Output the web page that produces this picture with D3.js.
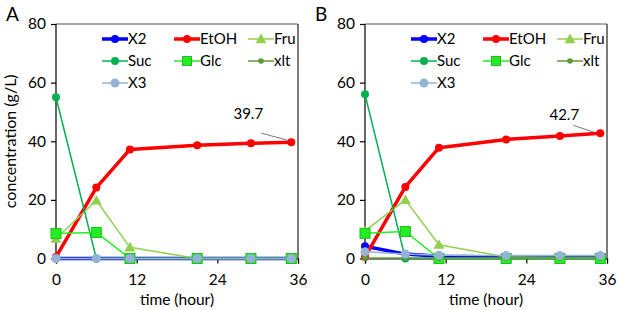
<!DOCTYPE html>
<html>
<head>
<meta charset="utf-8">
<script src="https://cdn.jsdelivr.net/npm/d3@7"></script>
<style>
  body { margin: 0; background: #fff; }
  text { font-family: Lato, "Open Sans", sans-serif; fill: #000; }
</style>
</head>
<body>
<div id="chart"></div>
<script>
// sampling times (hour)
const times = [0, 6, 11, 21, 29, 35];
const xTicks = [0, 12, 24, 36];
const yTicks = [0, 20, 40, 60, 80];

// panel A
const a_X2   = [0, 0, 0, 0, 0, 0];
const a_EtOH = [0.5, 24.2, 37.2, 38.6, 39.3, 39.7];
const a_Fru  = [6.8, 19.8, 3.8, 0, 0, 0];
const a_Suc  = [55, 0, 0, 0, 0, 0];
const a_Glc  = [8.5, 8.9, 0, 0, 0, 0];
const a_xlt  = [0, 0, 0, 0, 0, 0];
const a_X3   = [0, 0, 0, 0, 0, 0];

// panel B
const b_X2   = [4.2, 1.5, 0.8, 0.5, 0.5, 0.5];
const b_EtOH = [0.5, 24.4, 37.8, 40.6, 41.8, 42.7];
const b_Fru  = [9.4, 20, 4.7, 0.5, 0.3, 0.3];
const b_Suc  = [56, 0, 0, 0, 0, 0];
const b_Glc  = [8.6, 9.2, 0, 0, 0, 0];
const b_xlt  = [0.2, 0.2, 0.2, 0.2, 0.2, 0.2];
const b_X3   = [2.3, 1.5, 1.1, 1, 1, 1];

const seriesStyle = [
    { name: "X2",   color: "#0000ff", width: 3.5, shape: "circle", size: 4 },
    { name: "EtOH", color: "#ff0000", width: 3.5, shape: "circle", size: 4 },
    { name: "Fru",  color: "#92d050", width: 1.5, shape: "triangle", size: 5.5 },
    { name: "Suc",  color: "#00b050", width: 1.5, shape: "circle", size: 4 },
    { name: "Glc",  color: "#22ee22", width: 1.5, shape: "square", size: 5, stroke: "#22bb22" },
    { name: "xlt",  color: "#5f9a3a", width: 1.5, shape: "circle", size: 2.8 },
    { name: "X3",   color: "#95b3d7", width: 1.5, shape: "circle", size: 4.5 }
];

const W = 617, H = 310;
const svg = d3.select("#chart").append("svg")
    .attr("width", W).attr("height", H);

function marker(g, s, x, y, scale) {
    const k = scale || 1;
    if (s.shape === "circle") {
        g.append("circle").attr("cx", x).attr("cy", y).attr("r", s.size * k)
            .attr("fill", s.color);
    } else if (s.shape === "square") {
        const r = s.size * k;
        g.append("rect").attr("x", x - r).attr("y", y - r)
            .attr("width", 2 * r).attr("height", 2 * r)
            .attr("fill", s.color).attr("stroke", s.stroke || s.color).attr("stroke-width", 1);
    } else {
        const r = s.size * k;
        g.append("path")
            .attr("d", `M${x},${y - r}L${x + r},${y + r * 0.75}L${x - r},${y + r * 0.75}Z`)
            .attr("fill", s.color);
    }
}

function drawPanel(left, right, letter, data, label, labelOff, showTitle) {
    const top = 24, bottom = 258.5;
    const x = d3.scaleLinear().domain([0, 36]).range([left, right]);
    const y = d3.scaleLinear().domain([0, 80]).range([bottom, top]);
    const g = svg.append("g");

    // box
    g.append("line").attr("x1", left).attr("x2", right).attr("y1", top).attr("y2", top)
        .attr("stroke", "#555").attr("stroke-width", 1);
    g.append("line").attr("x1", right).attr("x2", right).attr("y1", top).attr("y2", bottom)
        .attr("stroke", "#222").attr("stroke-width", 1.2);

    // axes
    const ya = g.append("g").attr("transform", `translate(${left},0)`)
        .call(d3.axisLeft(y).tickValues(yTicks).tickSize(5).tickPadding(5));
    const xa = g.append("g").attr("transform", `translate(0,${bottom})`)
        .call(d3.axisBottom(x).tickValues(xTicks).tickSize(5).tickPadding(10));
    [ya, xa].forEach(a => {
        a.select(".domain").attr("stroke", "#000").attr("stroke-width", 1.2);
        a.selectAll(".tick line").attr("stroke", "#000").attr("stroke-width", 1.2);
        a.selectAll("text").attr("font-size", 15.5).attr("font-family", "Lato, sans-serif").attr("fill", "#000");
    });
    ya.select(".domain").attr("d", `M0,${bottom}V${top}`);

    g.append("text").attr("x", (left + right) / 2).attr("y", 305)
        .attr("text-anchor", "middle").attr("font-size", 15.5).text("time (hour)");
    if (showTitle) {
        g.append("text").attr("transform", `translate(16,${(top + bottom) / 2}) rotate(-90)`)
            .attr("text-anchor", "middle").attr("font-size", 16).text("concentration (g/L)");
    }
    g.append("text").attr("x", left - 50).attr("y", 21).attr("font-size", 19).text(letter);

    // series
    seriesStyle.forEach((s, i) => {
        const vals = data[i];
        const pts = times.map((t, j) => [x(t), y(vals[j])]);
        g.append("path").attr("d", d3.line()(pts))
            .attr("fill", "none").attr("stroke", s.color).attr("stroke-width", s.width)
            .attr("stroke-linejoin", "round");
        pts.forEach(p => marker(g, s, p[0], p[1]));
    });

    // annotation of last EtOH point
    const lastT = times[times.length - 1];
    const lastV = data[1][data[1].length - 1];
    const px = x(lastT), py = y(lastV);
    g.append("line")
        .attr("x1", px + labelOff.lx1).attr("y1", py + labelOff.ly1)
        .attr("x2", px + labelOff.lx2).attr("y2", py + labelOff.ly2)
        .attr("stroke", "#555").attr("stroke-width", 0.8);
    g.append("text").attr("x", px + labelOff.tx).attr("y", py + labelOff.ty)
        .attr("text-anchor", "middle").attr("font-size", 15).text(label);

    // legend (row-major, 3 columns)
    const colX = [left + 46, left + 118, left + 192];
    const rowY = [39, 61, 83];
    seriesStyle.forEach((s, i) => {
        const cx = colX[i % 3], cy = rowY[Math.floor(i / 3)];
        g.append("line").attr("x1", cx).attr("x2", cx + 26).attr("y1", cy).attr("y2", cy)
            .attr("stroke", s.color).attr("stroke-width", s.width);
        marker(g, s, cx + 13, cy, s.shape === "square" ? 0.9 : 1);
        g.append("text").attr("x", cx + 26).attr("y", cy + 5).attr("font-size", 15).text(s.name);
    });
}

drawPanel(56, 298, "A", [a_X2, a_EtOH, a_Fru, a_Suc, a_Glc, a_xlt, a_X3], "39.7",
    { tx: -43, ty: -23, lx1: -30, ly1: -9, lx2: -4, ly2: -2 }, true);
drawPanel(365, 607, "B", [b_X2, b_EtOH, b_Fru, b_Suc, b_Glc, b_xlt, b_X3], "42.7",
    { tx: -36, ty: -13, lx1: -27, ly1: -8, lx2: -6, ly2: -1 }, false);
</script>
</body>
</html>
